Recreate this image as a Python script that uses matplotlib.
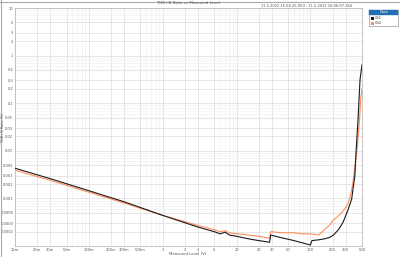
import matplotlib.pyplot as plt
from matplotlib.ticker import FixedLocator, NullFormatter, LogLocator
from matplotlib.patches import Rectangle

# ===============================
# data (V, %)
# ===============================
ch1_level = [0.01, 0.03, 0.1, 0.3, 1, 3, 5, 6, 7, 8, 10, 15, 20, 28, 29, 40, 60, 80, 100,
             105, 130, 150, 180, 205, 240, 278, 320, 362, 400, 417, 440, 470, 500]
ch1_thdn = [0.0043, 0.0026, 0.00145, 0.00085, 0.00044, 0.00025, 0.0002, 0.00018, 0.000195,
            0.00017, 0.00016, 0.00014, 0.00013, 0.00012, 0.00017, 0.00015, 0.00013, 0.000115,
            0.000105, 0.00013, 0.000135, 0.00014, 0.00015, 0.00017, 0.00022, 0.00032, 0.00055,
            0.00096, 0.003, 0.0106, 0.04, 0.31, 0.64]

ch2_level = [0.01, 0.03, 0.1, 0.3, 1, 3, 5, 6, 7, 8, 10, 15, 20, 28, 29, 40, 60, 80, 100,
             130, 150, 180, 205, 240, 278, 320, 346, 370, 390, 430, 460, 480, 500]
ch2_thdn = [0.0039, 0.0024, 0.00135, 0.0008, 0.00044, 0.00027, 0.00022, 0.0002, 0.00021,
            0.00019, 0.00018, 0.00017, 0.00016, 0.000145, 0.0002, 0.00019, 0.00019, 0.00018,
            0.00018, 0.00017, 0.00021, 0.00027, 0.00035, 0.00043, 0.00054, 0.00075, 0.0011,
            0.0018, 0.0033, 0.011, 0.04, 0.12, 0.2]

x_ticks = [0.01, 0.02, 0.03, 0.05, 0.1, 0.2, 0.3, 0.5, 1, 2, 3, 5, 10, 20, 30, 50, 100, 200, 300, 500]
x_labels = ["10m", "20m", "30m", "50m", "100m", "200m", "300m", "500m", "1", "2", "3", "5",
            "10", "20", "30", "50", "100", "200", "300", "500"]
y_ticks = [10, 5, 3, 2, 1, 0.5, 0.3, 0.2, 0.1, 0.05, 0.03, 0.02, 0.01, 0.005, 0.003, 0.002,
           0.001, 0.0005, 0.0003, 0.0002]
y_labels = ["10", "5", "3", "2", "1", "0.5", "0.3", "0.2", "0.1", "0.05", "0.03", "0.02", "0.01",
            "0.005", "0.003", "0.002", "0.001", "0.0005", "0.0003", "0.0002"]

BLACK = "#1a1a1a"
ORANGE = "#ff8c5a"
TXT = "#555555"

# ===============================
# figure
# ===============================
fig = plt.figure(figsize=(4.0, 2.57), dpi=100, facecolor="white")
ax = fig.add_axes([15 / 400, 1 - 246 / 257, 347 / 400, 238 / 257])

ax.plot(ch1_level, ch1_thdn, color=BLACK, lw=0.8, zorder=3)
ax.plot(ch2_level, ch2_thdn, color=ORANGE, lw=0.8, zorder=2)

ax.set_xscale("log")
ax.set_yscale("log")
ax.set_xlim(0.01, 500)
ax.set_ylim(0.0001, 10)

ax.xaxis.set_major_locator(FixedLocator(x_ticks))
ax.set_xticklabels(x_labels)
ax.xaxis.set_minor_locator(LogLocator(base=10, subs=(6, 7, 8, 9)))
ax.xaxis.set_minor_formatter(NullFormatter())
ax.yaxis.set_major_locator(FixedLocator(y_ticks))
ax.set_yticklabels(y_labels)
ax.yaxis.set_minor_locator(LogLocator(base=10, subs=(6, 7, 8, 9)))
ax.yaxis.set_minor_formatter(NullFormatter())

ax.tick_params(which="both", length=0, labelsize=2.6, colors=TXT, pad=1.2)
ax.grid(which="major", color="#dcdcdc", lw=0.5)
ax.grid(which="minor", color="#eeeeee", lw=0.4)
for s in ax.spines.values():
    s.set_color("#bbbbbb")
    s.set_linewidth(0.6)

fig.text(188 / 400, 1 - 254 / 257, "Measured Level (V)", fontsize=2.8, color=TXT,
         ha="center", va="center")
fig.text(3.2 / 400, 1 - 127 / 257, "THD+N Ratio (%)", fontsize=2.4, color=TXT,
         ha="center", va="center", rotation=90)

fig.text(188 / 400, 1 - 3.5 / 257, "THD+N Ratio vs Measured Level", fontsize=2.8,
         color=TXT, ha="center", va="center")
fig.text(352 / 400, 1 - 6 / 257, "11.5.2022 15:56:25.053 - 11.5.2022 16:06:07.284",
         fontsize=2.6, color=TXT, ha="right", va="center")

# frame lines around the figure
fig.add_artist(plt.Line2D([0, 1], [1 - 1.5 / 257] * 2, color="#aaaaaa", lw=0.8))
fig.add_artist(plt.Line2D([1 / 400] * 2, [0, 1], color="#aaaaaa", lw=0.8))

# legend box
lx, ly, lw_, lh = 369 / 400, 1 - 26 / 257, 29 / 400, 16 / 257
fig.add_artist(Rectangle((lx, ly), lw_, lh, transform=fig.transFigure,
                         facecolor="white", edgecolor="#999999", lw=0.5))
fig.add_artist(Rectangle((lx, ly + lh - 5 / 257), lw_, 5 / 257, transform=fig.transFigure,
                         facecolor="#1f6fb2", edgecolor="#1f6fb2", lw=0.3))
fig.text(lx + lw_ / 2, ly + lh - 2.5 / 257, "Data", fontsize=2.6, color="white",
         ha="center", va="center")
for i, (name, c) in enumerate([("Ch1", BLACK), ("Ch2", ORANGE)]):
    yy = ly + lh - (8 + 5 * i) / 257
    fig.add_artist(Rectangle((lx + 2 / 400, yy - 1.5 / 257), 3 / 400, 3 / 257,
                             transform=fig.transFigure, facecolor=c, edgecolor="none"))
    fig.text(lx + 6 / 400, yy, name, fontsize=2.6, color="#333333", va="center")

fig.savefig("out.png", dpi=100, facecolor="white")
